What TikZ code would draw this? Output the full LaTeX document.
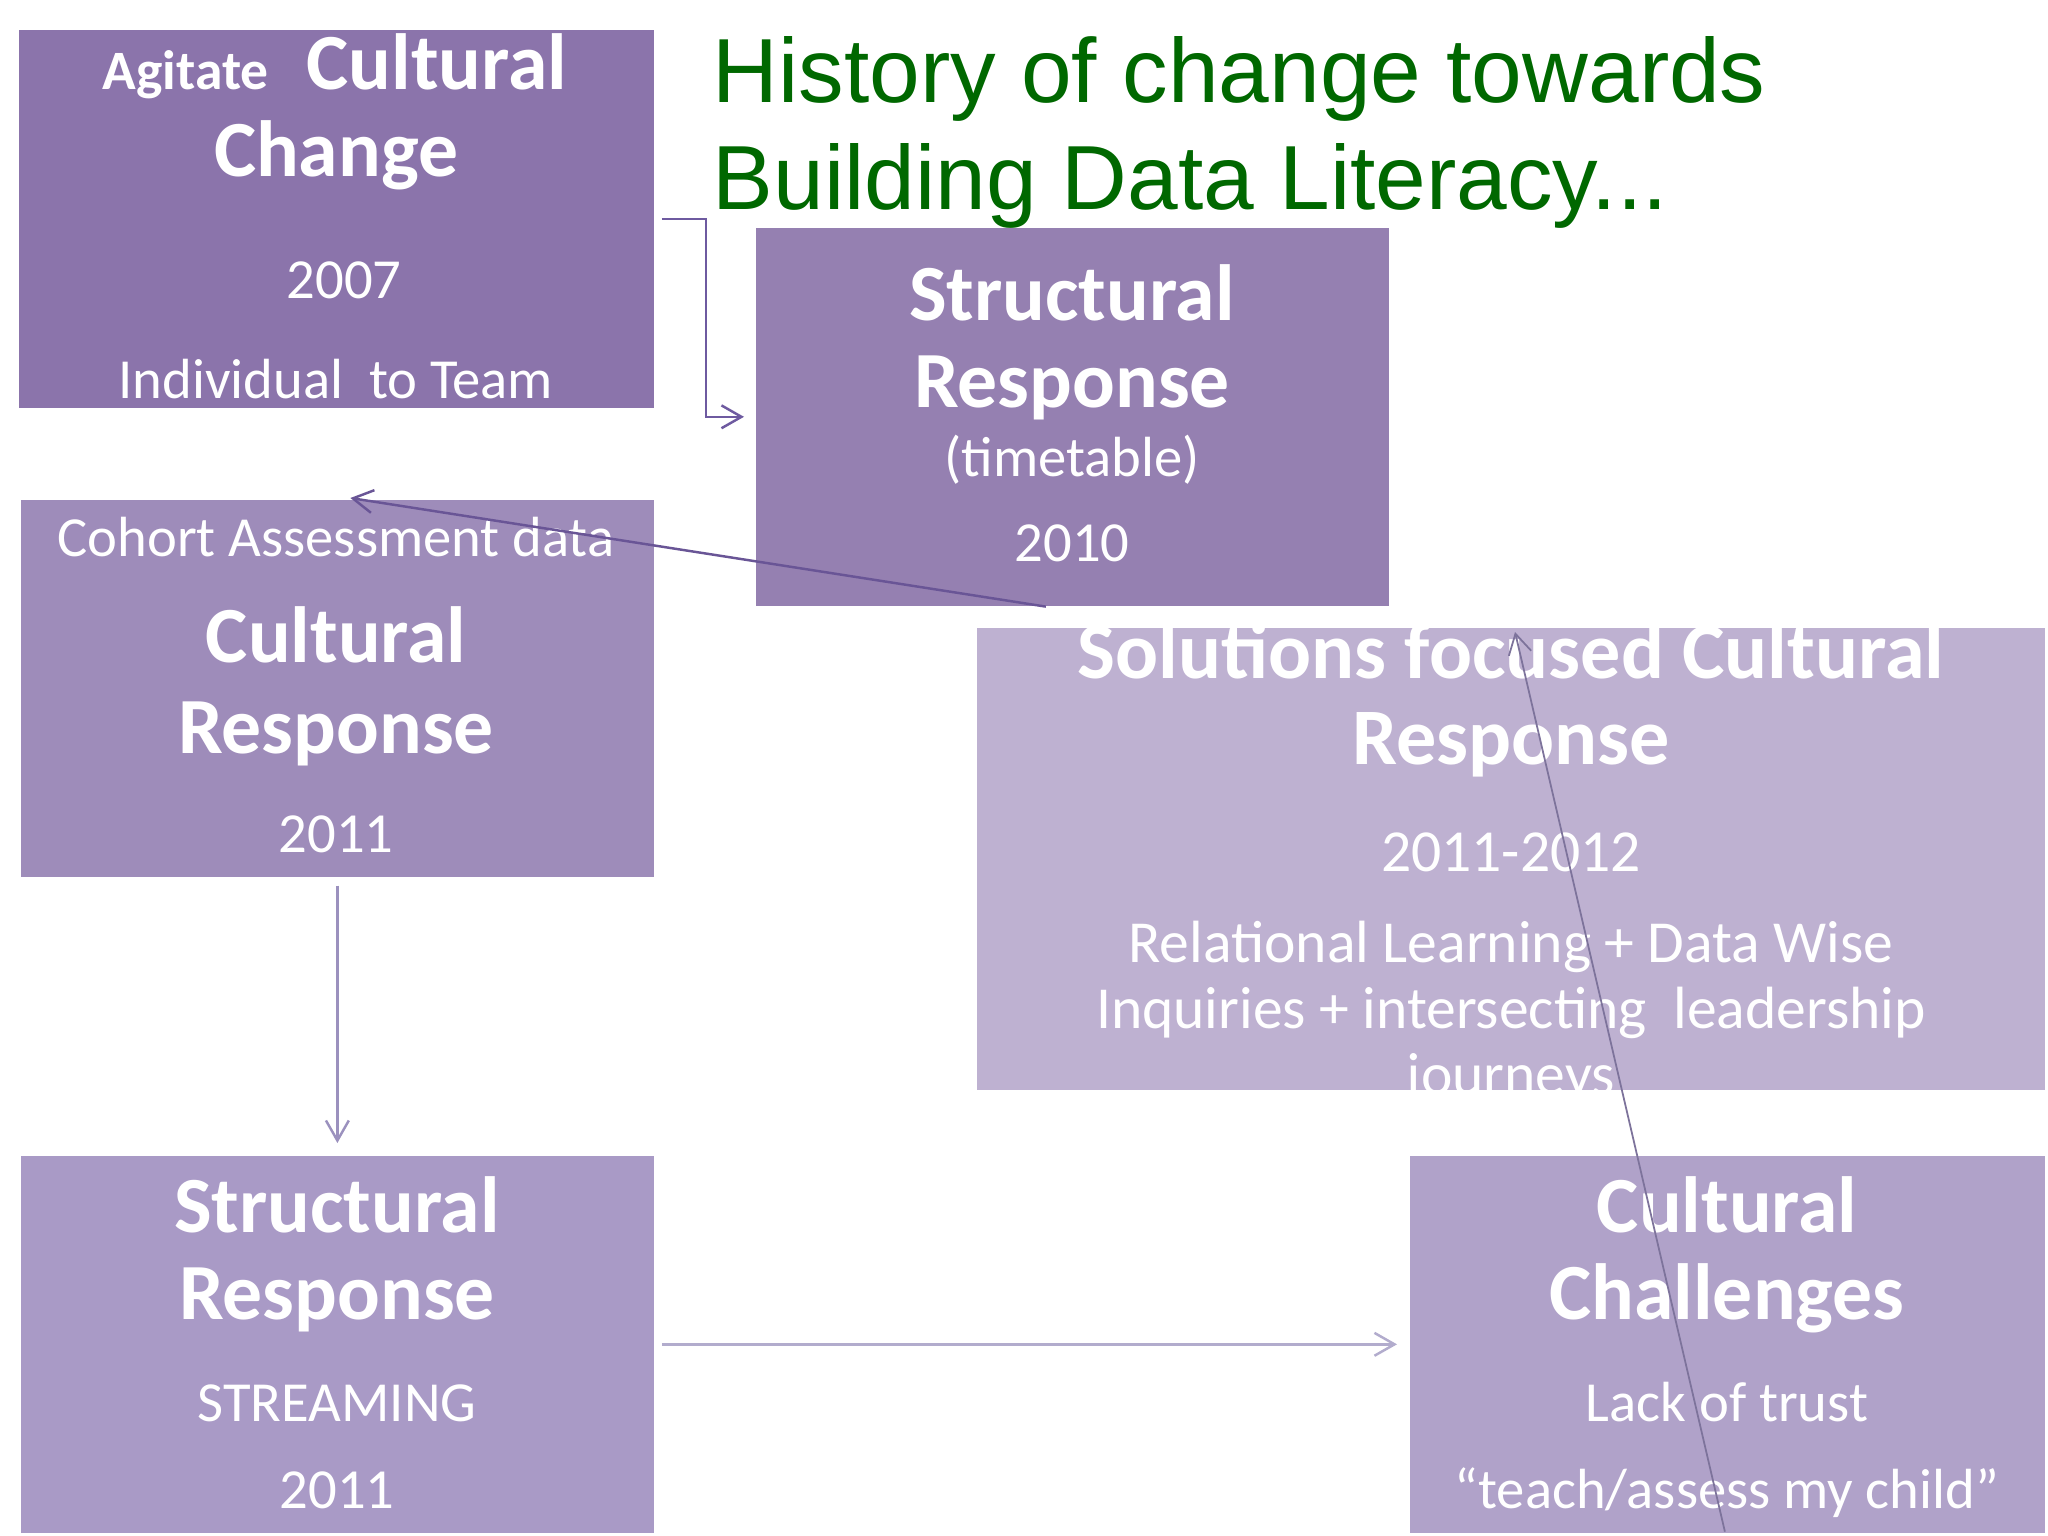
\documentclass[tikz,border=0pt]{standalone}
\usepackage{fontspec}
\setmainfont{Carlito}
\newfontfamily\titlefont{Liberation Sans}
\usetikzlibrary{arrows.meta}
\definecolor{cA}{RGB}{139,116,171}
\definecolor{cB}{RGB}{149,128,177}
\definecolor{cC}{RGB}{158,140,186}
\definecolor{cD}{RGB}{190,177,209}
\definecolor{cE}{RGB}{169,154,198}
\definecolor{cF}{RGB}{176,162,201}
\definecolor{titlegreen}{RGB}{0,104,0}
\definecolor{arA}{RGB}{110,90,160}
\definecolor{arB}{RGB}{105,85,150}
\definecolor{arC}{RGB}{155,145,190}
\definecolor{arD}{RGB}{178,172,205}
\definecolor{arE}{RGB}{125,115,155}
\newcommand\BxBig{\fontsize{22.65}{26}\selectfont\bfseries}
\newcommand\BxSmallB{\fontsize{15.8}{18}\selectfont\bfseries}
\newcommand\BxReg{\fontsize{16.1}{19}\selectfont}
\newcommand\BxBigD{\fontsize{22.8}{26}\selectfont\bfseries}
\newcommand\BxRegD{\fontsize{16.95}{20}\selectfont}
\begin{document}
\begin{tikzpicture}[x=0.01cm,y=-0.01cm,
  box/.style={rectangle, anchor=north west, inner sep=0pt, draw=none},
  txt/.style={text=white, anchor=base, inner sep=0pt},
  conn/.style={line width=0.7pt, -{Straight Barb[length=5.7pt,width=6.5pt,line width=0.7pt]}}]
\useasboundingbox (0,0) rectangle (2048,1536);
\fill[white] (0,0) rectangle (2048,1536);

% boxes
\node[box, fill=cA, minimum width=6.35cm, minimum height=3.78cm] (b1) at (18,29) {};
\node[box, fill=cB, minimum width=6.33cm, minimum height=3.78cm] (b2) at (755,227) {};
\node[box, fill=cC, minimum width=6.33cm, minimum height=3.77cm] (b3) at (20,499) {};
\node[box, fill=cD, minimum width=10.68cm, minimum height=4.62cm] (b4) at (976,627) {};
\node[box, fill=cE, minimum width=6.33cm, minimum height=3.77cm] (b5) at (20,1155) {};
\node[box, fill=cF, minimum width=6.35cm, minimum height=3.77cm] (b6) at (1409,1155) {};

% title
\node[anchor=base west, inner sep=0pt, text=titlegreen, font=\titlefont\fontsize{25.9}{30}\selectfont] (t1) at (712,102) {History of change towards};
\node[anchor=base west, inner sep=0pt, text=titlegreen, font=\titlefont\fontsize{25.9}{30}\selectfont] (t2) at (712,209) {Building Data Literacy...};

% box 1
\node[txt] (b1l1) at (335,89) {{\BxSmallB Agitate}\hspace{0.38cm}{\BxBig Cultural}};
\node[txt, font=\BxBig] (b1l2) at (336,176) {Change};
\node[txt, font=\BxReg] (b1l3) at (344,298) {2007};
\node[txt, font=\BxReg] (b1l4) at (336,398) {Individual\ \ to Team};

% box 2
\node[txt, font=\BxBig] (b2l1) at (1072,320) {Structural};
\node[txt, font=\BxBig] (b2l2) at (1072,407) {Response};
\node[txt, font=\BxReg] (b2l3) at (1072,476) {(timetable)};
\node[txt, font=\BxReg] (b2l4) at (1072,561) {2010};

% box 3
\node[txt, font=\BxReg] (b3l1) at (336,556) {Cohort Assessment data};
\node[txt, font=\BxBig] (b3l2) at (336,662) {Cultural};
\node[txt, font=\BxBig] (b3l3) at (336,753) {Response};
\node[txt, font=\BxReg] (b3l4) at (336,852) {2011};

% box 4
\node[txt, font=\BxBigD] (b4l1) at (1511,678) {Solutions focused Cultural};
\node[txt, font=\BxBigD] (b4l2) at (1511,764) {Response};
\node[txt, font=\BxRegD] (b4l3) at (1511,871) {2011-2012};
\node[txt, font=\BxRegD] (b4l4) at (1511,962) {Relational Learning + Data Wise};
\node[txt, font=\BxRegD] (b4l5) at (1511,1028) {Inquiries + intersecting\ \ leadership};
\begin{scope}
\clip (976,627) rectangle (2044,1089);
\node[txt, font=\BxRegD] (b4l6) at (1511,1094) {journeys};
\end{scope}

% box 5
\node[txt, font=\BxBig] (b5l1) at (337,1232) {Structural};
\node[txt, font=\BxBig] (b5l2) at (337,1319) {Response};
\node[txt, font=\BxReg] (b5l3) at (337,1421) {STREAMING};
\node[txt, font=\BxReg] (b5l4) at (337,1508) {2011};

% box 6
\node[txt, font=\BxBig] (b6l1) at (1727,1232) {Cultural};
\node[txt, font=\BxBig] (b6l2) at (1727,1319) {Challenges};
\node[txt, font=\BxReg] (b6l3) at (1727,1421) {Lack of trust};
\node[txt, font=\BxReg] (b6l4) at (1727,1508) {“teach/assess my child”};

% connectors
\draw[conn, draw=arA] ([xshift=0.07cm]b1.east) -- ++(44,0) |- ([xshift=-0.11cm]b2.west);
\draw[conn, draw=arB] ([xshift=-0.265cm]b2.south) -- ([xshift=0.13cm,yshift=0.01cm]b3.north);
\draw[conn, draw=arC] ([yshift=-0.08cm]b3.south) -- ([yshift=0.12cm]b5.north);
\draw[conn, draw=arD, line width=0.8pt] ([xshift=0.07cm]b5.east) -- ([xshift=-0.12cm]b6.west);
\draw[draw=arE, line width=0.5pt, -{Straight Barb[length=5.7pt,width=6.5pt,line width=0.5pt]}] ([xshift=-0.025cm,yshift=0.02cm]b6.south) -- ([xshift=0.04cm,yshift=-0.05cm]b4.north);
\end{tikzpicture}
\end{document}
